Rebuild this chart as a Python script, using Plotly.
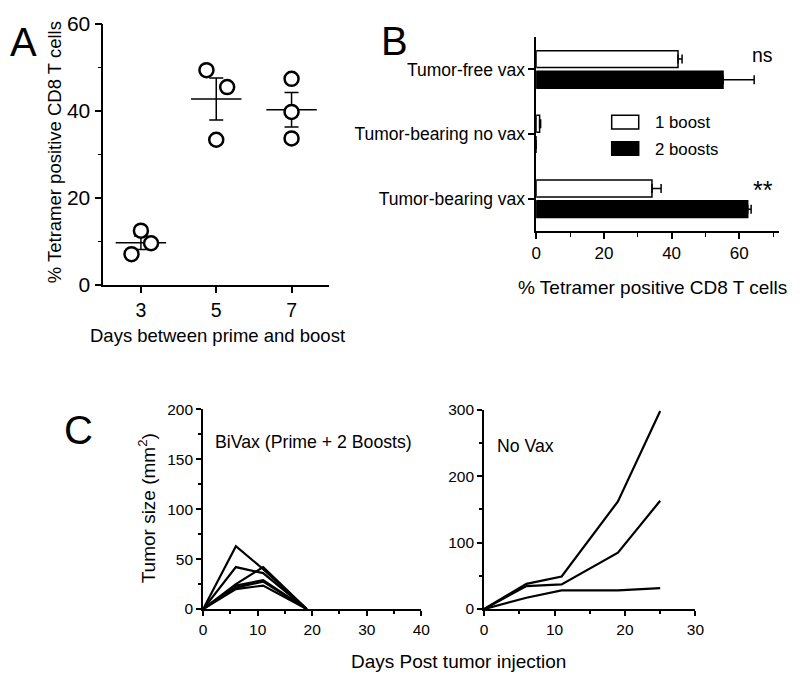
import numpy as np
import plotly.graph_objects as go

FONT = "Liberation Sans, Arial, Helvetica, sans-serif"
W, H = 800, 688

# ---------------- Panel A data ----------------
a_groups = [3, 5, 7]
a_day = [3, 3, 3, 5, 5, 5, 7, 7, 7]
a_xpos = [3.0, 3.27, 2.75, 4.74, 5.29, 5.0, 7.0, 7.0, 7.0]
a_vals = [12.4, 9.5, 7.0, 49.3, 45.4, 33.3, 47.3, 39.7, 33.6]

# ---------------- Panel B data ----------------
b_categories = ["Tumor-free vax", "Tumor-bearing no vax", "Tumor-bearing vax"]
b_one_boost = [41.9, 1.0, 34.2]
b_one_boost_err = [1.2, 0.3, 2.7]
b_two_boosts = [55.2, 0.0, 62.5]
b_two_boosts_err = [9.2, 0.0, 1.0]

# ---------------- Panel C data ----------------
c_days_bivax = [0, 6, 11, 19]
c_bivax = [
    [0, 63, 40, 0],
    [0, 42, 36, 0],
    [0, 25, 42, 0],
    [0, 23.5, 29, 0],
    [0, 21.5, 27.5, 0],
    [0, 20, 23.5, 0],
]
c_days_novax = [0, 6, 11, 19, 25]
c_novax = [
    [0, 38, 49, 162, 298],
    [0, 34.5, 37, 85, 163],
    [0, 17, 28, 28, 31.5],
]


def px_x(x):
    return x / W


def px_y(y):
    return 1 - y / H


fig = go.Figure()

# ---- Panel A ----
vals = np.array(a_vals)
days = np.array(a_day)
means = [vals[days == g].mean() for g in a_groups]
sems = [vals[days == g].std(ddof=1) / np.sqrt((days == g).sum()) for g in a_groups]

fig.add_trace(go.Scatter(
    x=a_groups, y=means, mode="markers", xaxis="x", yaxis="y",
    marker=dict(symbol="line-ew", size=36, color="black",
                line=dict(color="black", width=1.5)),
    error_y=dict(type="data", array=sems, width=7, thickness=1.5, color="black"),
    showlegend=False, hoverinfo="skip", cliponaxis=False,
))
fig.add_trace(go.Scatter(
    x=a_xpos, y=a_vals, mode="markers", xaxis="x", yaxis="y",
    marker=dict(symbol="circle", size=14, color="white",
                line=dict(color="black", width=2.5)),
    showlegend=False, cliponaxis=False,
))

# ---- Panel B ----
fig.add_trace(go.Bar(
    y=b_categories, x=b_one_boost, orientation="h", name="1 boost",
    xaxis="x2", yaxis="y2",
    marker=dict(color="white", line=dict(color="black", width=1.5)),
    error_x=dict(type="data", symmetric=False, array=b_one_boost_err,
                 arrayminus=[0] * len(b_one_boost_err), width=4.5,
                 thickness=1.5, color="black"),
    showlegend=False,
))
fig.add_trace(go.Bar(
    y=b_categories, x=b_two_boosts, orientation="h", name="2 boosts",
    xaxis="x2", yaxis="y2",
    marker=dict(color="black", line=dict(color="black", width=1.5)),
    error_x=dict(type="data", symmetric=False, array=b_two_boosts_err,
                 arrayminus=[0] * len(b_two_boosts_err), width=4.5,
                 thickness=1.5, color="black"),
    showlegend=False,
))

# ---- Panel C ----
for series in c_bivax:
    fig.add_trace(go.Scatter(
        x=c_days_bivax, y=series, mode="lines", xaxis="x3", yaxis="y3",
        line=dict(color="black", width=2.2), showlegend=False,
    ))
for series in c_novax:
    fig.add_trace(go.Scatter(
        x=c_days_novax, y=series, mode="lines", xaxis="x4", yaxis="y4",
        line=dict(color="black", width=2.2), showlegend=False,
    ))

axis_common = dict(showgrid=False, zeroline=False, showline=True,
                   linecolor="black", ticks="outside", tickcolor="black",
                   fixedrange=True)

fig.update_layout(
    width=W, height=H,
    margin=dict(l=0, r=0, t=0, b=0),
    paper_bgcolor="white", plot_bgcolor="white",
    font=dict(family=FONT, color="black", size=16),
    barmode="group", bargap=0.36, bargroupgap=0.18,
    # Panel A
    xaxis=dict(axis_common, domain=[px_x(100), px_x(330)], range=[2, 8],
               tickvals=a_groups, ticklen=7, linewidth=1.5, tickwidth=1.5,
               tickfont=dict(size=19.5), anchor="y"),
    yaxis=dict(axis_common, domain=[px_y(282), px_y(12)], range=[0, 60],
               dtick=20, ticklen=7, linewidth=1.5, tickwidth=1.5,
               tickfont=dict(size=21), anchor="x",
               minor=dict(dtick=10, ticks="outside", ticklen=4,
                          tickcolor="black", tickwidth=1.2)),
    # Panel B
    xaxis2=dict(axis_common, domain=[px_x(540.7), px_x(787.3)], range=[0, 71.6],
                dtick=20, ticklen=6, linewidth=1.5, tickwidth=1.5,
                tickfont=dict(size=17), anchor="y2",
                minor=dict(dtick=10, ticks="outside", ticklen=4,
                           tickcolor="black", tickwidth=1.2)),
    yaxis2=dict(axis_common, domain=[px_y(226.7), px_y(26)],
                autorange="reversed", ticklen=6, linewidth=1.5, tickwidth=1.5,
                tickfont=dict(size=17.5), anchor="x2"),
    # Panel C left
    xaxis3=dict(axis_common, domain=[px_x(201.7), px_x(423.7)], range=[0, 40],
                dtick=10, ticklen=5, linewidth=2, tickwidth=2,
                tickfont=dict(size=15.5), anchor="y3",
                minor=dict(dtick=5, ticks="outside", ticklen=3,
                           tickcolor="black", tickwidth=1.5)),
    yaxis3=dict(axis_common, domain=[px_y(617.7), px_y(411)], range=[0, 200],
                dtick=50, ticklen=5, linewidth=2, tickwidth=2,
                tickfont=dict(size=15.5), anchor="x3",
                minor=dict(dtick=25, ticks="outside", ticklen=3,
                           tickcolor="black", tickwidth=1.5)),
    # Panel C right
    xaxis4=dict(axis_common, domain=[px_x(487.7), px_x(702.7)], range=[0, 30],
                dtick=10, ticklen=5, linewidth=2, tickwidth=2,
                tickfont=dict(size=15.5), anchor="y4",
                minor=dict(dtick=5, ticks="outside", ticklen=3,
                           tickcolor="black", tickwidth=1.5)),
    yaxis4=dict(axis_common, domain=[px_y(617.7), px_y(411.5)], range=[0, 300],
                dtick=100, ticklen=5, linewidth=2, tickwidth=2,
                tickfont=dict(size=15.5), anchor="x4",
                minor=dict(dtick=50, ticks="outside", ticklen=3,
                           tickcolor="black", tickwidth=1.5)),
)

ann = []


def add_text(text, x, y, size=18.5, xanchor="center", angle=0):
    ann.append(dict(text=text, x=px_x(x), y=px_y(y), xref="paper", yref="paper",
                    xanchor=xanchor, yanchor="middle", showarrow=False,
                    textangle=angle, font=dict(size=size, family=FONT, color="black")))


# panel letters
add_text("A", 19, 31, size=40)
add_text("B", 396, 30, size=40)
add_text("C", 75, 432, size=40)

# axis titles
add_text("% Tetramer positive CD8 T cells", 50, 145, angle=-90)
add_text("Days between prime and boost", 216, 335)
add_text("% Tetramer positive CD8 T cells", 659, 285, size=19)
add_text("Tumor size (mm<sup>2</sup>)", 144, 513, size=19, angle=-90)
add_text("Days Post tumor injection", 462, 672, size=19)

# panel B significance
add_text("ns", 771, 44, size=19.5)
add_text("**", 772, 184, size=25)

# panel B legend
add_text("1 boost", 660, 114, size=16.8, xanchor="left")
add_text("2 boosts", 660, 142, size=16.8, xanchor="left")

# panel C labels
add_text("BiVax (Prime + 2 Boosts)", 212, 445, size=17.7, xanchor="left")
add_text("No Vax", 499, 449, size=17.7, xanchor="left")

shapes = [
    dict(type="rect", xref="paper", yref="paper",
         x0=px_x(617.5), x1=px_x(645), y0=px_y(121), y1=px_y(106.7),
         line=dict(color="black", width=1.5), fillcolor="white"),
    dict(type="rect", xref="paper", yref="paper",
         x0=px_x(617.5), x1=px_x(645), y0=px_y(148.3), y1=px_y(134.3),
         line=dict(color="black", width=1.5), fillcolor="black"),
]

fig.update_layout(annotations=ann, shapes=shapes)

fig.write_html(
    "out.html",
    config={"displayModeBar": False},
    post_script="document.body.style.margin='0px';document.body.style.overflow='hidden';",
)
